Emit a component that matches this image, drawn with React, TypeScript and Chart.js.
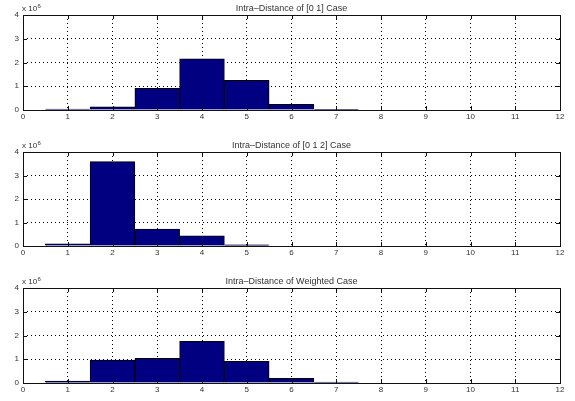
import React, { useEffect, useRef } from 'react';
import { Chart, registerables } from 'chart.js';

Chart.register(...registerables);

// ---- data (counts in units of 10^6) ----
const BIN_CENTERS = [1, 2, 3, 4, 5, 6, 7];
const CASE_01 = [0.04, 0.13, 0.91, 2.15, 1.25, 0.24, 0.03];
const CASE_012 = [0.09, 3.59, 0.72, 0.43, 0.05, 0, 0];
const CASE_WEIGHTED = [0.08, 0.97, 1.04, 1.75, 0.91, 0.2, 0.04];
const TITLES = [
  'Intra–Distance of [0 1] Case',
  'Intra–Distance of [0 1 2] Case',
  'Intra–Distance of Weighted Case',
];
const X_MIN = 0;
const X_MAX = 12;
const Y_MIN = 0;
const Y_MAX = 4;
const EXPONENT = '6';

const W = 575;
const H = 401;
const FONT = 'Liberation Sans, Helvetica, Arial, sans-serif';

const framePlugin = {
  id: 'matlabFrame',
  afterDatasetsDraw(chart: any, _args: any, opts: any) {
    const { ctx, chartArea, scales } = chart;
    const { left, right, top, bottom } = chartArea;
    const x = scales.x;
    const y = scales.y;
    ctx.save();
    ctx.strokeStyle = '#111';
    ctx.lineWidth = 1;
    ctx.strokeRect(Math.round(left) + 0.5, Math.round(top) + 0.5, Math.round(right - left), Math.round(bottom - top));
    ctx.beginPath();
    const tl = 4;
    x.ticks.forEach((t: any) => {
      const px = Math.round(x.getPixelForValue(t.value)) + 0.5;
      ctx.moveTo(px, bottom);
      ctx.lineTo(px, bottom - tl);
      ctx.moveTo(px, top);
      ctx.lineTo(px, top + tl);
    });
    y.ticks.forEach((t: any) => {
      const py = Math.round(y.getPixelForValue(t.value)) + 0.5;
      ctx.moveTo(left, py);
      ctx.lineTo(left + tl, py);
      ctx.moveTo(right, py);
      ctx.lineTo(right - tl, py);
    });
    ctx.stroke();

    // title
    ctx.fillStyle = '#333';
    ctx.font = `9px ${FONT}`;
    ctx.textAlign = 'center';
    ctx.textBaseline = 'bottom';
    ctx.fillText(opts.title, (left + right) / 2, top - 2);

    // exponent label
    ctx.textAlign = 'left';
    ctx.font = `8px ${FONT}`;
    const base = 'x 10';
    const bx = left - 1;
    ctx.fillText(base, bx, top - 2);
    const w = ctx.measureText(base).width;
    ctx.font = `6px ${FONT}`;
    ctx.fillText(EXPONENT, bx + w + 0.5, top - 6);
    ctx.restore();
  },
};

function Panel({ title, values, top, bottom }: { title: string; values: number[]; top: number; bottom: number }) {
  const ref = useRef<HTMLCanvasElement>(null);
  useEffect(() => {
    if (!ref.current) return;
    const chart = new Chart(ref.current, {
      type: 'bar',
      data: {
        datasets: [
          {
            data: BIN_CENTERS.map((c, i) => ({ x: c, y: values[i] })),
            backgroundColor: '#000080',
            borderColor: '#000000',
            borderWidth: 1,
            barPercentage: 1,
            categoryPercentage: 1,
          },
        ],
      },
      plugins: [framePlugin],
      options: {
        responsive: false,
        animation: false,
        devicePixelRatio: 1,
        layout: { padding: { top, right: W - 560, left: 0, bottom: 0 } },
        plugins: {
          legend: { display: false },
          tooltip: { enabled: false },
          matlabFrame: { title },
        } as any,
        scales: {
          x: {
            type: 'linear',
            min: X_MIN,
            max: X_MAX,
            offset: false,
            grid: { color: '#000', lineWidth: 1, drawTicks: false, offset: false },
            border: { display: false, dash: [1, 3] },
            ticks: { stepSize: 1, font: { size: 8, family: FONT }, color: '#333', padding: 2, maxRotation: 0 },
            afterFit: (s: any) => {
              s.height = H - bottom;
            },
          },
          y: {
            min: Y_MIN,
            max: Y_MAX,
            grid: { color: '#000', lineWidth: 1, drawTicks: false },
            border: { display: false, dash: [1, 3] },
            ticks: { stepSize: 1, font: { size: 8, family: FONT }, color: '#333', padding: 4 },
            afterFit: (s: any) => {
              s.width = 23;
            },
          },
        },
      } as any,
    });
    return () => chart.destroy();
  }, [title, values, top, bottom]);
  return (
    <canvas
      ref={ref}
      width={W}
      height={H}
      style={{ position: 'absolute', left: 0, top: 0, width: W, height: H }}
    />
  );
}

export default function App() {
  return (
    <div style={{ position: 'fixed', left: 0, top: 0, width: W, height: H, background: '#fff' }}>
      <Panel title={TITLES[0]} values={CASE_01} top={15} bottom={110} />
      <Panel title={TITLES[1]} values={CASE_012} top={152} bottom={246} />
      <Panel title={TITLES[2]} values={CASE_WEIGHTED} top={288} bottom={383} />
    </div>
  );
}
